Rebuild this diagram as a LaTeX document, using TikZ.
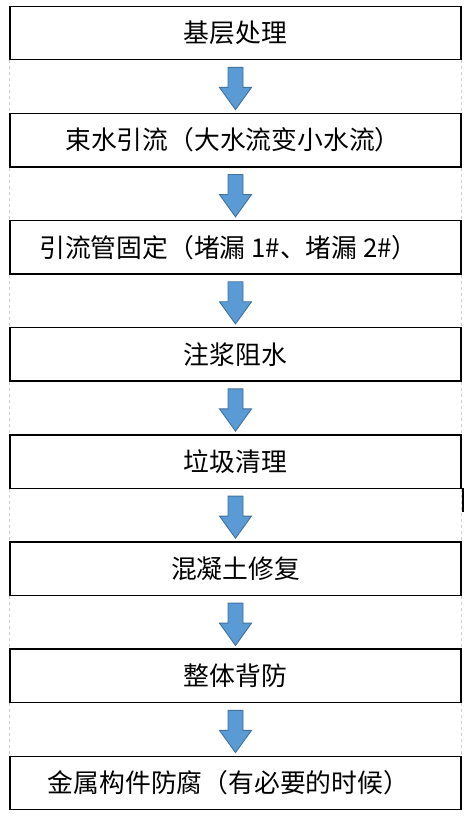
\documentclass[tikz,border=0pt]{standalone}
\usepackage{fontspec}
\newfontfamily\cjk{Noto Sans CJK SC}
\definecolor{arrowfill}{HTML}{5B9BD5}
\definecolor{arrowline}{HTML}{41719C}
\begin{document}
\begin{tikzpicture}[x=1pt,y=-1pt,
  stepbox/.style={draw=black,line width=1.4pt,minimum width=451pt,minimum height=53.5pt,inner sep=0pt,font=\cjk\fontsize{25.8}{30}\selectfont},
  blockarrow/.style={fill=arrowfill,draw=arrowline,line width=0.9pt,line join=miter},
  gapline/.style={draw=gray!40,dashed,line width=0.6pt}]
\useasboundingbox (0,0) rectangle (470,818);
\node[stepbox] (b1) at (235.5,33) {基层处理};
\node[stepbox] (b2) at (235.5,140.1) {\hspace*{-5pt}束水引流（大水流变小水流）};
\node[stepbox] (b3) at (235.5,247.3) {\hspace*{-14pt}引流管固定（堵漏 1\#、堵漏 2\#）};
\node[stepbox] (b4) at (235.5,354.4) {注浆阻水};
\node[stepbox] (b5) at (235.5,461.6) {垃圾清理};
\node[stepbox] (b6) at (235.5,568.7) {混凝土修复};
\node[stepbox] (b7) at (235.5,675.9) {整体背防};
\node[stepbox] (b8) at (235.5,783) {\hspace*{-14pt}金属构件防腐（有必要的时候）};
\foreach \a/\b in {b1/b2,b2/b3,b3/b4,b4/b5,b5/b6,b6/b7,b7/b8}{
  \draw[gapline] (\a.south west) -- (\b.north west);
  \draw[gapline] (\a.south east) -- (\b.north east);
  \draw[blockarrow] ([shift={(-7.5,7)}]\a.south) -- ([shift={(7.5,7)}]\a.south)
    -- ([shift={(7.5,27)}]\a.south) -- ([shift={(16,27)}]\a.south)
    -- ([shift={(0,-3)}]\b.north) -- ([shift={(-16,27)}]\a.south)
    -- ([shift={(-7.5,27)}]\a.south) -- cycle;
}
\coordinate (barTop) at (463,488);
\coordinate (barBot) at (463,512);
\draw[line width=2pt] (barTop) -- (barBot);
\end{tikzpicture}
\end{document}
